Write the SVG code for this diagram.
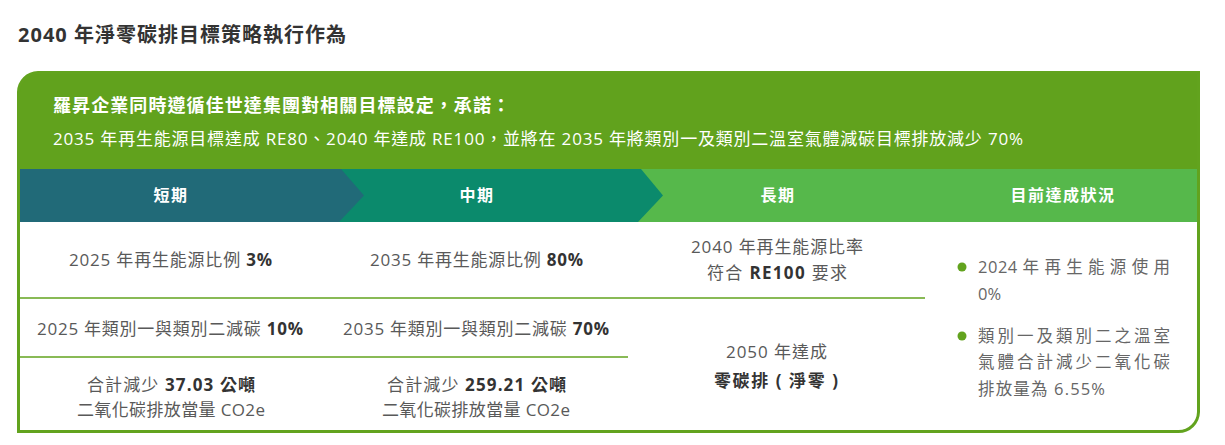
<svg xmlns="http://www.w3.org/2000/svg" width="1225" height="445" viewBox="0 0 1225 445">
<style>
text{font-family:"Open Sans","Noto Sans CJK TC","Noto Sans",sans-serif;}
.title{font-size:20px;font-weight:700;fill:#333;}
.hd1{font-size:18px;font-weight:700;fill:#fff;}
.hd2{font-size:17px;fill:#fff;}
.col{font-size:16px;font-weight:700;fill:#fff;text-anchor:middle;letter-spacing:1.5px;}
.b{font-size:17px;fill:#595959;}
.b tspan.k{font-weight:700;fill:#333;}
.bk{font-weight:700;fill:#333;}
.r{font-size:16.5px;fill:#666;}
.ln{stroke:#62a31e;stroke-width:1.5;fill:none;}
.dot{fill:#62a31e;}
</style>
<rect width="1225" height="445" fill="#fff"/>
<text class="title" x="18" y="42" textLength="328" lengthAdjust="spacing">2040 年淨零碳排目標策略執行作為</text>

<g id="frame">
<path d="M18,92 A20,20 0 0 1 38,72 H1199 V169 H18 Z" fill="#61a21d"/>
<rect x="20" y="169" width="1178" height="53" fill="#56b84b"/>
<polygon points="330,169 641,169 663,195.5 638,222 330,222" fill="#0b8a6c"/>
<polygon points="20,169 341,169 364,195.5 339,222 20,222" fill="#216a78"/>
<path d="M18.5,92 A20,20 0 0 1 38,72.5 H1198.5 V412 A20,20 0 0 1 1178.5,431.5 H18.5 Z" fill="none" stroke="#62a31e" stroke-width="3"/>
</g>

<g id="header">
<text class="hd1" x="53" y="112" textLength="457" lengthAdjust="spacing">羅昇企業同時遵循佳世達集團對相關目標設定，承諾：</text>
<text class="hd2" x="53" y="145" textLength="970" lengthAdjust="spacing">2035 年再生能源目標達成 RE80、2040 年達成 RE100，並將在 2035 年將類別一及類別二溫室氣體減碳目標排放減少 70%</text>
</g>

<g id="col-short"><text class="col" x="171" y="201">短期</text></g>
<g id="col-mid"><text class="col" x="477" y="201">中期</text></g>
<g id="col-long"><text class="col" x="778" y="201">長期</text></g>
<g id="col-status"><text class="col" x="1063" y="201">目前達成狀況</text></g>

<g id="connectors">
<line class="ln" x1="18" y1="298" x2="925" y2="298"/>
<line class="ln" x1="18" y1="357" x2="628" y2="357"/>
</g>

<g id="short-1"><text class="b" x="69" y="266" textLength="203" lengthAdjust="spacing">2025 年再生能源比例 <tspan class="k">3%</tspan></text></g>
<g id="short-2"><text class="b" x="37" y="335" textLength="266" lengthAdjust="spacing">2025 年類別一與類別二減碳 <tspan class="k">10%</tspan></text></g>
<g id="short-3">
<text class="b" x="87" y="391" textLength="168" lengthAdjust="spacing">合計減少 <tspan class="k">37.03 公噸</tspan></text>
<text class="b" x="77" y="416" textLength="188" lengthAdjust="spacing">二氧化碳排放當量 CO2e</text>
</g>

<g id="mid-1"><text class="b" x="370" y="266" textLength="213" lengthAdjust="spacing">2035 年再生能源比例 <tspan class="k">80%</tspan></text></g>
<g id="mid-2"><text class="b" x="343" y="335" textLength="266" lengthAdjust="spacing">2035 年類別一與類別二減碳 <tspan class="k">70%</tspan></text></g>
<g id="mid-3">
<text class="b" x="387" y="391" textLength="179" lengthAdjust="spacing">合計減少 <tspan class="k">259.21 公噸</tspan></text>
<text class="b" x="382" y="416" textLength="188" lengthAdjust="spacing">二氧化碳排放當量 CO2e</text>
</g>

<g id="long-1">
<text class="b" x="691" y="253" textLength="172" lengthAdjust="spacing">2040 年再生能源比率</text>
<text class="b" x="707" y="279" textLength="140" lengthAdjust="spacing">符合 <tspan class="k">RE100</tspan> 要求</text>
</g>
<g id="long-2">
<text class="b" x="726" y="358" textLength="101" lengthAdjust="spacing">2050 年達成</text>
<text class="b bk" x="714" y="387" textLength="124" lengthAdjust="spacing">零碳排 ( 淨零 )</text>
</g>

<g id="status-1">
<circle class="dot" cx="962" cy="267" r="4.5"/>
<text class="r" x="978" y="273" textLength="192" lengthAdjust="spacing">2024 年 再 生 能 源 使 用</text>
<text class="r" x="978" y="300">0%</text>
</g>
<g id="status-2">
<circle class="dot" cx="962" cy="336" r="4.5"/>
<text class="r" x="978" y="342" textLength="192" lengthAdjust="spacing">類別一及類別二之溫室</text>
<text class="r" x="978" y="368" textLength="192" lengthAdjust="spacing">氣體合計減少二氧化碳</text>
<text class="r" x="978" y="395" textLength="127" lengthAdjust="spacing">排放量為 6.55%</text>
</g>
</svg>
